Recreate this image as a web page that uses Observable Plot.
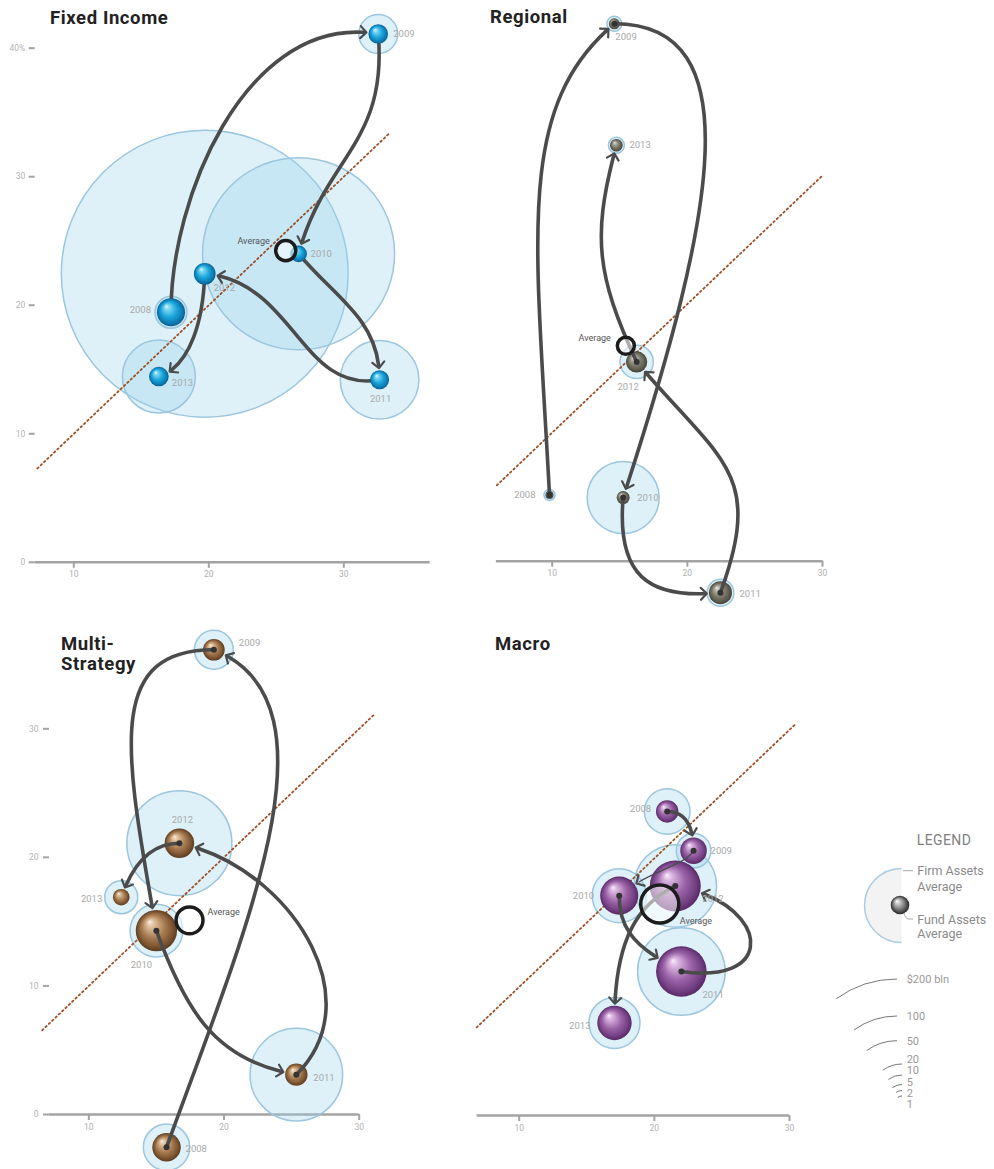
<!DOCTYPE html>
<html><head><meta charset="utf-8">
<script src="https://cdn.jsdelivr.net/npm/d3@7"></script>
<script src="https://cdn.jsdelivr.net/npm/@observablehq/plot@0.6"></script>
<style>
body{margin:0;background:#fff;font-family:Roboto,"Noto Sans",sans-serif;}
#page{position:relative;width:994px;height:1169px;overflow:hidden;background:#fff;}
.title{position:absolute;font-weight:700;font-size:18.5px;letter-spacing:0.6px;line-height:22px;color:#222;font-family:Roboto,sans-serif;white-space:nowrap;}
</style></head><body><div id="page"></div>
<script>
// ---------------- data ----------------
const years = [2008, 2009, 2010, 2011, 2012, 2013];
const xTicks = [10, 20, 30];
const yTicksFixed = [0, 10, 20, 30, 40];
const yTicksMulti = [0, 10, 20, 30];

const fixedX    = [17.2, 32.55, 26.65, 32.65, 19.7, 16.3];
const fixedY    = [19.45, 41.1, 24.0, 14.2, 22.45, 14.45];
const fixedFund = [3.7, 1.8, 1.3, 1.7, 2.2, 1.8];
const fixedFirm = [4.8, 7.1, 173, 29, 386, 25];
const fixedAvg  = [25.7, 24.25, 1.9];
const fixedDiag = [7.3, 33.3];
const fixedXExtent = [7.14, 36.4];

const regionalX    = [9.8, 14.6, 15.25, 22.45, 16.25, 14.75];
const regionalY    = [5.15, 41.8, 4.95, -2.45, 15.5, 32.35];
const regionalFund = [0.3, 0.57, 0.79, 2.5, 2.1, 0.74];
const regionalFirm = [0.57, 1.06, 24.3, 3.4, 5.2, 1.2];
const regionalAvg  = [15.45, 16.75, 1.36];
const regionalDiag = [5.9, 30];
const regionalXExtent = [5.87, 30.04];

const multiX    = [15.75, 19.25, 15.0, 25.35, 16.7, 12.4];
const multiY    = [-2.55, 36.15, 14.3, 3.1, 21.1, 16.9];
const multiFund = [3.8, 2.2, 8.0, 2.35, 4.1, 1.3];
const multiFirm = [10.1, 7.1, 13.0, 40.2, 51.7, 5.1];
const multiAvg  = [17.45, 15.1, 3.4];
const multiDiag = [6.55, 31.1];
const multiXExtent = [7.09, 30];

const macroX    = [20.95, 22.9, 17.4, 22.0, 21.55, 17.05];
const macroY    = [23.65, 20.6, 17.1, 11.2, 17.85, 7.2];
const macroFund = [2.35, 3.3, 6.8, 12.0, 12.2, 5.55];
const macroFirm = [9.75, 5.6, 13.7, 36, 32, 12.2];
const macroAvg  = [20.4, 16.45, 6.8];
const macroDiag = [6.85, 30.4];
const macroXExtent = [6.88, 30];

const legendSizes  = [200, 100, 50, 20, 10, 5, 2, 1];
const legendLabels = ["$200 bln", "100", "50", "20", "10", "5", "2", "1"];

// ---------------- styles / layout ----------------
const R_MAX = 146, V_MAX = 400;
const rPx = v => R_MAX * Math.sqrt(v / V_MAX);

const gradients = {
  "g-fixed":    ["#ecfcff", "#86daf4", "#1ba6dc", "#0c7cb4", "#085f8e"],
  "g-regional": ["#f2f1ea", "#bebcb0", "#7e7c6c", "#5a594b", "#444337"],
  "g-multi":    ["#fcf1e4", "#e2c5a3", "#a97d52", "#7a5330", "#5e3c1e"],
  "g-macro":    ["#fbf0fc", "#dbb7e1", "#9b63a7", "#723f81", "#582866"],
  "g-legend":   ["#ffffff", "#dadada", "#8a8a8a", "#474747", "#2a2a2a"]
};
const defsSvg = document.createElementNS("http://www.w3.org/2000/svg", "svg");
defsSvg.setAttribute("width", 0); defsSvg.setAttribute("height", 0);
defsSvg.style.position = "absolute";
defsSvg.innerHTML = "<defs>" + Object.entries(gradients).map(([id, c]) =>
  `<radialGradient id="${id}" cx="50%" cy="50%" r="50%" fx="33%" fy="28%">
     <stop offset="0" stop-color="${c[0]}"/><stop offset="0.16" stop-color="${c[1]}"/>
     <stop offset="0.55" stop-color="${c[2]}"/><stop offset="0.85" stop-color="${c[3]}"/>
     <stop offset="1" stop-color="${c[4]}"/></radialGradient>`).join("") + "</defs>";
document.getElementById("page").appendChild(defsSvg);

const panels = [
  { title: ["Fixed Income"], titlePos: [50, 7.5],
    data: {x: fixedX, y: fixedY, fund: fixedFund, firm: fixedFirm, avg: fixedAvg, diag: fixedDiag, xExtent: fixedXExtent},
    box: {left: 0, top: 0, width: 480, height: 600},
    px: {x10: 73.3, x30: 343.3, y0: 561.8, y30: 176.2}, yTop: 40,
    grad: "g-fixed", linesUnder: true, yAxis: {ticks: yTicksFixed, padding: 4},
    shapes: [{a0:-90,a1:10,h0:120,h1:130},{a0:85,a1:105,h0:110,h1:100},{a0:50,a1:90,h0:60,h1:60},{a0:170,a1:185,h0:80,h1:90},{a0:92,a1:165,h0:70,h1:20}],
    labels: [[-20,-2,"end"],[15,0,"start"],[12,0,"start"],[1,19,"middle"],[9,14,"start"],[13,6,"start"]],
    avgLabel: [-16,-9,"end"] },
  { title: ["Regional"], titlePos: [490, 7],
    data: {x: regionalX, y: regionalY, fund: regionalFund, firm: regionalFirm, avg: regionalAvg, diag: regionalDiag, xExtent: regionalXExtent},
    box: {left: 490, top: 0, width: 350, height: 620},
    px: {x10: 551.7, x30: 822, y0: 560.7, y30: 175}, yTop: 40,
    grad: "g-regional", linesUnder: false, yAxis: null,
    shapes: [{a0:-93,a1:-40,h0:260,h1:130},{a0:0,a1:108,h0:140,h1:290},{a0:95,a1:-5,h0:90,h1:60},{a0:-70,a1:-130,h0:130,h1:130},{a0:-115,a1:-75,h0:100,h1:90}],
    labels: [[-14,0,"end"],[1,13,"start"],[14,0,"start"],[19,1,"start"],[-8.5,25,"middle"],[13,0,"start"]],
    avgLabel: [-15,-8,"end"] },
  { title: ["Multi-", "Strategy"], titlePos: [61, 633.5],
    data: {x: multiX, y: multiY, fund: multiFund, firm: multiFirm, avg: multiAvg, diag: multiDiag, xExtent: multiXExtent},
    box: {left: 0, top: 620, width: 460, height: 549},
    px: {x10: 88.3, x30: 358.7, y0: 1114, y30: 728.3}, yTop: 35,
    grad: "g-multi", linesUnder: false, yAxis: {ticks: yTicksMulti, padding: 5},
    shapes: [{a0:-70,a1:-158,h0:240,h1:140},{a0:180,a1:80,h0:110,h1:180},{a0:70,a1:10,h0:90,h1:80},{a0:-45,a1:192,h0:110,h1:110},{a0:180,a1:110,h0:35,h1:25}],
    labels: [[19,2,"start"],[25,-7,"start"],[-15,34,"middle"],[17,3,"start"],[3,-23,"middle"],[-19,2,"end"]],
    avgLabel: [18,-8,"start"] },
  { title: ["Macro"], titlePos: [495, 633.5],
    data: {x: macroX, y: macroY, fund: macroFund, firm: macroFirm, avg: macroAvg, diag: macroDiag, xExtent: macroXExtent},
    box: {left: 460, top: 620, width: 380, height: 549},
    px: {x10: 518.7, x30: 789, y0: 1115, y30: 729.3}, yTop: 35,
    grad: "g-macro", linesUnder: false, yAxis: null,
    shapes: [{a0:0,a1:90,h0:22,h1:18},{a0:120,a1:140,h0:18,h1:40,w:1.3},{a0:90,a1:30,h0:45,h1:35},{a0:8,a1:190,h0:100,h1:95},{a0:155,a1:90,h0:50,h1:70}],
    labels: [[-16,-2,"end"],[17,0,"start"],[-25,0,"end"],[21,23,"start"],[27,13,"start"],[-24,3,"end"]],
    avgLabel: [20,17,"start"] }
];

// custom cubic curve (tangent angles + handle lengths), trimmed at the target sphere
function cubicCurve(shape, trimEnd) {
  const rad = Math.PI / 180;
  return function (context) {
    let pts = [];
    return {
      areaStart() {}, areaEnd() {},
      lineStart() { pts = []; },
      point(x, y) { pts.push([+x, +y]); },
      lineEnd() {
        if (pts.length < 2) return;
        const p0 = pts[0], p3 = pts[pts.length - 1];
        const p1 = [p0[0] + shape.h0 * Math.cos(shape.a0 * rad), p0[1] + shape.h0 * Math.sin(shape.a0 * rad)];
        const p2 = [p3[0] - shape.h1 * Math.cos(shape.a1 * rad), p3[1] - shape.h1 * Math.sin(shape.a1 * rad)];
        const at = t => { const u = 1 - t;
          return [u*u*u*p0[0] + 3*u*u*t*p1[0] + 3*u*t*t*p2[0] + t*t*t*p3[0],
                  u*u*u*p0[1] + 3*u*u*t*p1[1] + 3*u*t*t*p2[1] + t*t*t*p3[1]]; };
        let t = 1;
        for (let s = 1; s > 0; s -= 0.001) { const q = at(s); if (Math.hypot(q[0]-p3[0], q[1]-p3[1]) >= trimEnd) { t = s; break; } }
        const L = (a, b) => [a[0] + (b[0]-a[0])*t, a[1] + (b[1]-a[1])*t];
        const q0 = L(p0,p1), q1 = L(p1,p2), q2 = L(p2,p3), r0 = L(q0,q1), r1 = L(q1,q2), s0 = L(r0,r1);
        context.moveTo(p0[0], p0[1]);
        context.bezierCurveTo(q0[0], q0[1], r0[0], r0[1], s0[0], s0[1]);
      }
    };
  };
}

const page = document.getElementById("page");

for (const cfg of panels) {
  const d = cfg.data, box = cfg.box, px = cfg.px;
  const kx = (px.x30 - px.x10) / 20, ky = (px.y0 - px.y30) / 30;
  const X = v => px.x10 + (v - 10) * kx;
  const Y = v => px.y0 - v * ky;
  const marginLeft = X(d.xExtent[0]) - box.left;
  const marginRight = box.left + box.width - X(d.xExtent[1]);
  const marginTop = Y(cfg.yTop) - box.top;
  const marginBottom = box.top + box.height - px.y0;

  const pts = years.map((yr, i) => ({year: yr, x: d.x[i], y: d.y[i], fund: d.fund[i], firm: d.firm[i]}));
  const segs = pts.slice(0, -1).map((p, i) => ({x1: p.x, y1: p.y, x2: pts[i+1].x, y2: pts[i+1].y, target: pts[i+1]}));
  const avg = {x: d.avg[0], y: d.avg[1], fund: d.avg[2]};

  const links = segs.map((s, i) => Plot.link([s], {
    x1: "x1", y1: "y1", x2: "x2", y2: "y2",
    stroke: "#4b4b4b", strokeWidth: cfg.shapes[i].w ?? 3.6, strokeLinecap: "round",
    markerEnd: "arrow", curve: cubicCurve(cfg.shapes[i], rPx(s.target.fund) + 5)
  }));

  const marks = [
    Plot.ruleY([0], {stroke: "#a3a3a3", strokeWidth: 2.5}),
    Plot.axisX(xTicks, {anchor: "bottom", tickSize: 6, tickPadding: 3, stroke: "#a3a3a3", strokeWidth: 2, color: "#b0b0b0", fontSize: 8.5, label: null}),
  ];
  if (cfg.yAxis) marks.push(Plot.axisY(cfg.yAxis.ticks, {anchor: "left", tickSize: 6, tickPadding: cfg.yAxis.padding, stroke: "#a3a3a3", strokeWidth: 2, color: "#b3b3b3", fontSize: 8.5, label: null, tickFormat: v => v === 40 ? "40%" : String(v)}));
  marks.push(
    Plot.dot(pts, {x: "x", y: "y", r: "firm", fill: "#9cd5ed", fillOpacity: 0.33, stroke: "#9bc6de", strokeWidth: 1.5}),
    Plot.line(d.diag, {x: v => v, y: v => v, stroke: "#9c4f24", strokeWidth: 1.8, strokeDasharray: "1.6,3"})
  );
  if (cfg.linesUnder) marks.push(...links);
  marks.push(Plot.dot(pts, {x: "x", y: "y", r: "fund", fill: `url(#${cfg.grad})`}));
  if (!cfg.linesUnder) marks.push(...links, Plot.dot(segs, {x: "x1", y: "y1", r: 3, fill: "#333"}));
  marks.push(Plot.dot([avg], {x: "x", y: "y", r: "fund", stroke: "#1c1c1c", strokeWidth: 3.5, fill: "white", fillOpacity: 0.55}));
  pts.forEach((p, i) => {
    const [dx, dy, anchor] = cfg.labels[i];
    marks.push(Plot.text([p], {x: "x", y: "y", text: q => String(q.year), dx, dy, textAnchor: anchor, fill: "#a9a9a9", fontSize: 9.5}));
  });
  marks.push(Plot.text([avg], {x: "x", y: "y", text: () => "Average", dx: cfg.avgLabel[0], dy: cfg.avgLabel[1], textAnchor: cfg.avgLabel[2], fill: "#555", fontSize: 9}));

  const svg = Plot.plot({
    width: box.width, height: box.height,
    marginLeft, marginRight, marginTop, marginBottom,
    x: {domain: d.xExtent, axis: null},
    y: {domain: [0, cfg.yTop], axis: null},
    r: {type: "sqrt", domain: [0, V_MAX], range: [0, R_MAX]},
    style: {background: "transparent", overflow: "visible", fontFamily: "Roboto, sans-serif"},
    marks
  });
  svg.querySelectorAll("marker").forEach(m => {
    m.setAttribute("markerUnits", "userSpaceOnUse");
    m.setAttribute("markerWidth", "20");
    m.setAttribute("markerHeight", "20");
    m.setAttribute("stroke-width", "1.1");
  });
  svg.style.position = "absolute";
  svg.style.left = box.left + "px";
  svg.style.top = box.top + "px";
  svg.style.maxWidth = "none";
  page.appendChild(svg);

  cfg.title.forEach((line, j) => {
    const t = document.createElement("div");
    t.className = "title";
    t.style.left = cfg.titlePos[0] + "px";
    t.style.top = (cfg.titlePos[1] + j * 20) + "px";
    t.style.height = "20px";
    t.style.lineHeight = "20px";
    t.textContent = line;
    page.appendChild(t);
  });
}

// ---------------- legend ----------------
const ox = 830, oy = 820;
const lg = d3.select(page).append("svg")
  .attr("width", 164).attr("height", 300)
  .style("position", "absolute").style("left", ox + "px").style("top", oy + "px")
  .style("overflow", "visible").style("font-family", "Roboto, sans-serif");
lg.append("text").attr("x", 916.7 - ox).attr("y", 840 - oy).attr("dy", "0.36em")
  .attr("fill", "#808080").attr("font-size", 14).attr("letter-spacing", 0.4).text("LEGEND");
const hc = {x: 901.5 - ox, y: 905.5 - oy, r: 37};
const half = `M${hc.x},${hc.y - hc.r}A${hc.r},${hc.r} 0 0 0 ${hc.x},${hc.y + hc.r}`;
lg.append("path").attr("d", half + "Z").attr("fill", "#f3f3f3");
lg.append("path").attr("d", half).attr("fill", "none").attr("stroke", "#a9cde3").attr("stroke-width", 1.5);
lg.append("circle").attr("cx", 900 - ox).attr("cy", 905 - oy).attr("r", 9.3).attr("fill", "url(#g-legend)");
lg.append("line").attr("x1", 903 - ox).attr("x2", 913 - ox).attr("y1", 870.7 - oy).attr("y2", 870.7 - oy).attr("stroke", "#aaa");
lg.append("path").attr("d", `M${904 - ox},${913 - oy}Q${905 - ox},${919 - oy} ${909 - ox},${919 - oy}L${913 - ox},${919 - oy}`).attr("fill", "none").attr("stroke", "#aaa");
[["Firm Assets", 870.7], ["Average", 886.7], ["Fund Assets", 919], ["Average", 933.3]].forEach(([s, y]) =>
  lg.append("text").attr("x", 917.3 - ox).attr("y", y - oy).attr("dy", "0.36em").attr("fill", "#8a8a8a").attr("font-size", 12.5).text(s));
const arcTopX = [897, 897, 897, 902, 902, 902, 902, 902];
const arcTopY = [979, 1016, 1040.7, 1064, 1075, 1084.5, 1090.5, 1096];
const labY    = [979, 1016, 1041, 1059, 1070, 1082, 1093, 1104];
legendSizes.forEach((v, i) => {
  const R = rPx(v), a = -126 * Math.PI / 180;
  const tx = arcTopX[i] - ox, ty = arcTopY[i] - oy;
  const sx = tx + R * Math.cos(a), sy = ty + R + R * Math.sin(a);
  lg.append("path").attr("d", `M${sx},${sy}A${R},${R} 0 0 1 ${tx},${ty}`).attr("fill", "none").attr("stroke", "#777").attr("stroke-width", 1);
  lg.append("text").attr("x", 906.7 - ox).attr("y", labY[i] - oy).attr("dy", "0.36em").attr("fill", "#999999").style("fill", "#999999").attr("font-size", 11).text(legendLabels[i]);
});
</script></body></html>
